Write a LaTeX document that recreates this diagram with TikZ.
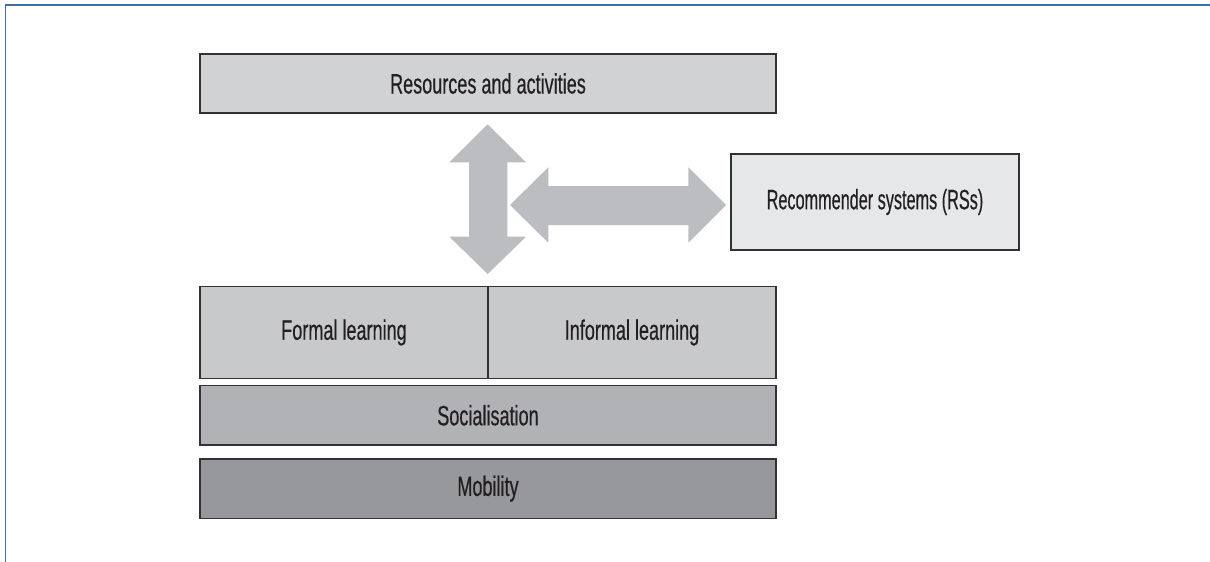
\documentclass[tikz,border=0pt]{standalone}
\usepackage{fontspec}
\setmainfont{Liberation Sans}[FakeStretch=0.645,FakeBold=0.4]
\newfontfamily\recfont{Liberation Sans}[FakeStretch=0.58,FakeBold=0.4]
\definecolor{framecol}{RGB}{62,112,165}
\definecolor{boxline}{RGB}{50,50,52}
\definecolor{txt}{RGB}{35,31,32}
\definecolor{resfill}{RGB}{209,210,212}
\definecolor{recfill}{RGB}{230,231,232}
\definecolor{learnfill}{RGB}{200,201,203}
\definecolor{socfill}{RGB}{177,178,181}
\definecolor{mobfill}{RGB}{151,152,155}
\definecolor{arrowfill}{RGB}{188,189,192}
\begin{document}
\begin{tikzpicture}[x=1pt,y=-1pt,
  layerbox/.style={draw=boxline, line width=1.4pt, inner sep=0pt, outer sep=0pt,
    font=\fontsize{28}{30}\selectfont, text=txt}]
\useasboundingbox (0,0) rectangle (1210,562);
\fill[white] (0,0) rectangle (1210,562);
% frame
\draw[framecol, line width=1.8pt] (5.5,562) -- (5.5,5) -- (1210,5);
% boxes
\node[layerbox, fill=resfill, minimum width=576pt, minimum height=59pt] (res) at (488,83.5) {Resources and activities};
\node[layerbox, fill=recfill, minimum width=288pt, minimum height=96pt, font=\recfont\fontsize{28}{30}\selectfont] (rec) at (875,202) {Recommender systems (RSs)};
\node[layerbox, fill=learnfill, minimum width=288pt, minimum height=91.6pt] (formal) at (344,332.5) {Formal learning};
\node[layerbox, fill=learnfill, minimum width=288pt, minimum height=91.6pt] (informal) at (632,332.5) {Informal learning};
\node[layerbox, fill=socfill, minimum width=576pt, minimum height=59.3pt] (soc) at (488,415.3) {Socialisation};
\node[layerbox, fill=mobfill, minimum width=576pt, minimum height=59.3pt] (mob) at (488,488.6) {Mobility};
% vertical double arrow
\fill[arrowfill] (487.7,124.3) -- (526,162.3) -- (507.3,162.3) -- (507.3,236.7) -- (526,236.7)
  -- (487.7,274) -- (449.3,236.7) -- (469,236.7) -- (469,162.3) -- (449.3,162.3) -- cycle;
% horizontal double arrow
\fill[arrowfill] (510,205) -- (548.3,167.3) -- (548.3,186) -- (688.3,186) -- (688.3,167.3)
  -- (726,205) -- (688.3,242.7) -- (688.3,225) -- (548.3,225) -- (548.3,242.7) -- cycle;
\end{tikzpicture}
\end{document}
